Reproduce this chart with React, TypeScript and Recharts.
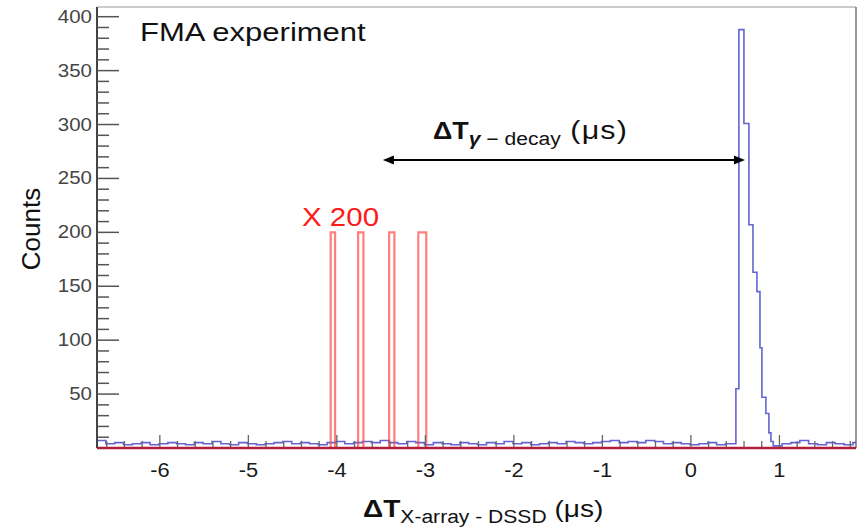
import React from "react";
import { LineChart, Line, XAxis, YAxis, ReferenceLine } from "recharts";

const xMajorTicks = [-6, -5, -4, -3, -2, -1, 0, 1];
const yMajorTicks = [50, 100, 150, 200, 250, 300, 350, 400];

// random-coincidence background, 0.1 us bins from -6.71
const noiseLeft = [
  7, 4, 5, 3, 4, 5, 3, 4, 5, 4,
  3, 5, 4, 6, 4, 3, 5, 4, 3, 4,
  5, 6, 4, 5, 4, 3, 5, 6, 4, 5,
  6, 5, 7, 5, 4, 6, 5, 3, 5, 4,
  3, 5, 4, 3, 5, 4, 6, 4, 5, 3,
  4, 5, 4, 6, 5, 4, 5, 6, 7, 5,
  6, 5, 7, 6, 4, 5, 4, 3, 4, 5,
  3, 4,
];
// background after the peak, 0.1 us bins from 0.93
const noiseRight = [2, 4, 5, 7, 4, 3, 5, 4, 3, 5];

// prompt peak (bin left edges + counts)
const peakEdges = [0.508, 0.542, 0.599, 0.655, 0.701, 0.746, 0.78, 0.802, 0.847, 0.881, 0.904];
const peakCounts = [55, 388, 301, 207, 163, 145, 93, 47, 32, 14, 6];

// decay-gated events, scaled x200
const redLeft = [-4.07, -3.76, -3.41, -3.08];
const redRight = [-4.02, -3.7, -3.35, -2.99];
const redCounts = [200, 200, 200, 200];

const X_MIN = -6.71;
const X_MAX = 1.865;
const Y_MAX = 409;

const blueData: { x: number; y: number }[] = [];
noiseLeft.forEach((c, i) => blueData.push({ x: X_MIN + i * 0.1, y: c }));
peakEdges.forEach((e, i) => blueData.push({ x: e, y: peakCounts[i] }));
noiseRight.forEach((c, i) => blueData.push({ x: 0.93 + i * 0.1, y: c }));
blueData.push({ x: X_MAX, y: noiseRight[noiseRight.length - 1] });

const redData: { x: number; y: number }[] = [{ x: X_MIN, y: 0 }];
redLeft.forEach((l, i) => {
  redData.push({ x: l, y: redCounts[i] });
  redData.push({ x: redRight[i], y: 0 });
});
redData.push({ x: X_MAX, y: 0 });

const xTicks: number[] = [];
for (let i = -33; i <= 9; i++) xTicks.push(i / 5);
const yTicks: number[] = [];
for (let v = 10; v <= 400; v += 10) yTicks.push(v);

const FONT = "'Liberation Sans', Arial, Helvetica, sans-serif";

const XTick = (props: any) => {
  const { x, y, payload } = props;
  const v = payload.value;
  const major = xMajorTicks.some((m) => Math.abs(m - v) < 1e-6);
  return (
    <g>
      <line x1={x} x2={x} y1={y - 1} y2={y - (major ? 13 : 7)} stroke="#666" strokeWidth={1.3} />
      {major && (
        <text
          transform={`translate(${x},${y + 22}) scale(1.12,1)`}
          textAnchor="middle"
          dominantBaseline="central"
          fontSize={19.5}
          fontFamily={FONT}
          fill="#1a1a1a"
        >
          {Math.round(v)}
        </text>
      )}
    </g>
  );
};

const YTick = (props: any) => {
  const { x, y, payload } = props;
  const v = payload.value;
  const major = yMajorTicks.includes(v);
  return (
    <g>
      <line x1={x} x2={x + (major ? 22 : 12)} y1={y} y2={y} stroke="#555" strokeWidth={1.5} />
      {major && (
        <text
          transform={`translate(${x - 5},${y}) scale(1.17,1)`}
          textAnchor="end"
          dominantBaseline="central"
          fontSize={17.5}
          fontFamily={FONT}
          fill="#444"
        >
          {v}
        </text>
      )}
    </g>
  );
};

const Arrow = (p: any) => {
  const { x1, x2, y1 } = p;
  return (
    <g>
      <line x1={x1 + 4} x2={x2 - 4} y1={y1} y2={y1} stroke="#000" strokeWidth={2} />
      <polygon points={`${x1},${y1} ${x1 + 11},${y1 - 4.5} ${x1 + 11},${y1 + 4.5}`} fill="#000" />
      <polygon points={`${x2},${y1} ${x2 - 11},${y1 - 4.5} ${x2 - 11},${y1 + 4.5}`} fill="#000" />
    </g>
  );
};

export default function App() {
  return (
    <div
      style={{
        position: "absolute",
        left: 0,
        top: 0,
        width: 857,
        height: 528,
        background: "#fff",
        fontFamily: FONT,
        overflow: "hidden",
      }}
    >
      <LineChart width={857} height={528} margin={{ top: 7, right: 1, left: 0, bottom: 0 }}>
        <XAxis
          type="number"
          dataKey="x"
          domain={[X_MIN, X_MAX]}
          allowDataOverflow
          ticks={xTicks}
          interval={0}
          tickSize={0}
          tickMargin={0}
          tickLine={false}
          tick={(p: any) => <XTick {...p} />}
          axisLine={{ stroke: "#b01e38", strokeWidth: 2.5 }}
          height={80}
        />
        <YAxis
          type="number"
          domain={[0, Y_MAX]}
          allowDataOverflow
          ticks={yTicks}
          interval={0}
          tickSize={0}
          tickMargin={0}
          tickLine={false}
          tick={(p: any) => <YTick {...p} />}
          axisLine={{ stroke: "#444", strokeWidth: 2 }}
          width={97}
        />
        <ReferenceLine y={Y_MAX} stroke="#999" strokeWidth={1} />
        <ReferenceLine x={X_MAX} stroke="#777" strokeWidth={1.5} />
        <Line
          data={blueData}
          dataKey="y"
          type="stepAfter"
          stroke="#3c3cc8"
          strokeOpacity={0.8}
          strokeWidth={1.6}
          dot={false}
          isAnimationActive={false}
        />
        <Line
          data={redData}
          dataKey="y"
          type="stepAfter"
          stroke="#ff3b3b"
          strokeOpacity={0.65}
          strokeWidth={2.2}
          dot={false}
          isAnimationActive={false}
        />
        <ReferenceLine
          segment={[
            { x: -3.48, y: 267 },
            { x: 0.61, y: 267 },
          ]}
          shape={(p: any) => <Arrow {...p} />}
        />
      </LineChart>

      <div
        style={{
          position: "absolute",
          left: 140,
          top: 19,
          fontSize: 26.5,
          lineHeight: "26.5px",
          color: "#111",
          whiteSpace: "nowrap",
          transform: "scaleX(1.17)",
          transformOrigin: "left",
        }}
      >
        FMA experiment
      </div>

      <div
        style={{
          position: "absolute",
          left: 302,
          top: 205,
          fontSize: 25,
          lineHeight: "25px",
          color: "#ff1a1a",
          whiteSpace: "nowrap",
          transform: "scaleX(1.18)",
          transformOrigin: "left",
        }}
      >
        X 200
      </div>

      <div
        style={{
          position: "absolute",
          left: 433,
          top: 119,
          fontSize: 23,
          lineHeight: "23px",
          color: "#111",
          whiteSpace: "nowrap",
          transform: "scaleX(1.17)",
          transformOrigin: "left",
        }}
      >
        <span style={{ fontWeight: "bold" }}>ΔT</span>
        <span style={{ fontSize: 18, position: "relative", top: 6 }}>
          <b><i>γ</i></b> − decay
        </span>
        <span style={{ fontSize: 26, letterSpacing: 1 }}> (μs)</span>
      </div>

      <div
        style={{
          position: "absolute",
          left: 31,
          top: 229,
          fontSize: 26,
          lineHeight: "26px",
          color: "#111",
          whiteSpace: "nowrap",
          transform: "translate(-50%, -50%) rotate(-90deg)",
        }}
      >
        Counts
      </div>

      <div
        style={{
          position: "absolute",
          left: 363,
          top: 497,
          fontSize: 24,
          lineHeight: "24px",
          color: "#111",
          whiteSpace: "nowrap",
          transform: "scaleX(1.17)",
          transformOrigin: "left",
        }}
      >
        <span style={{ fontWeight: "bold" }}>ΔT</span>
        <span style={{ fontSize: 18, position: "relative", top: 6 }}>X-array - DSSD</span>
        <span> (μs)</span>
      </div>
    </div>
  );
}
